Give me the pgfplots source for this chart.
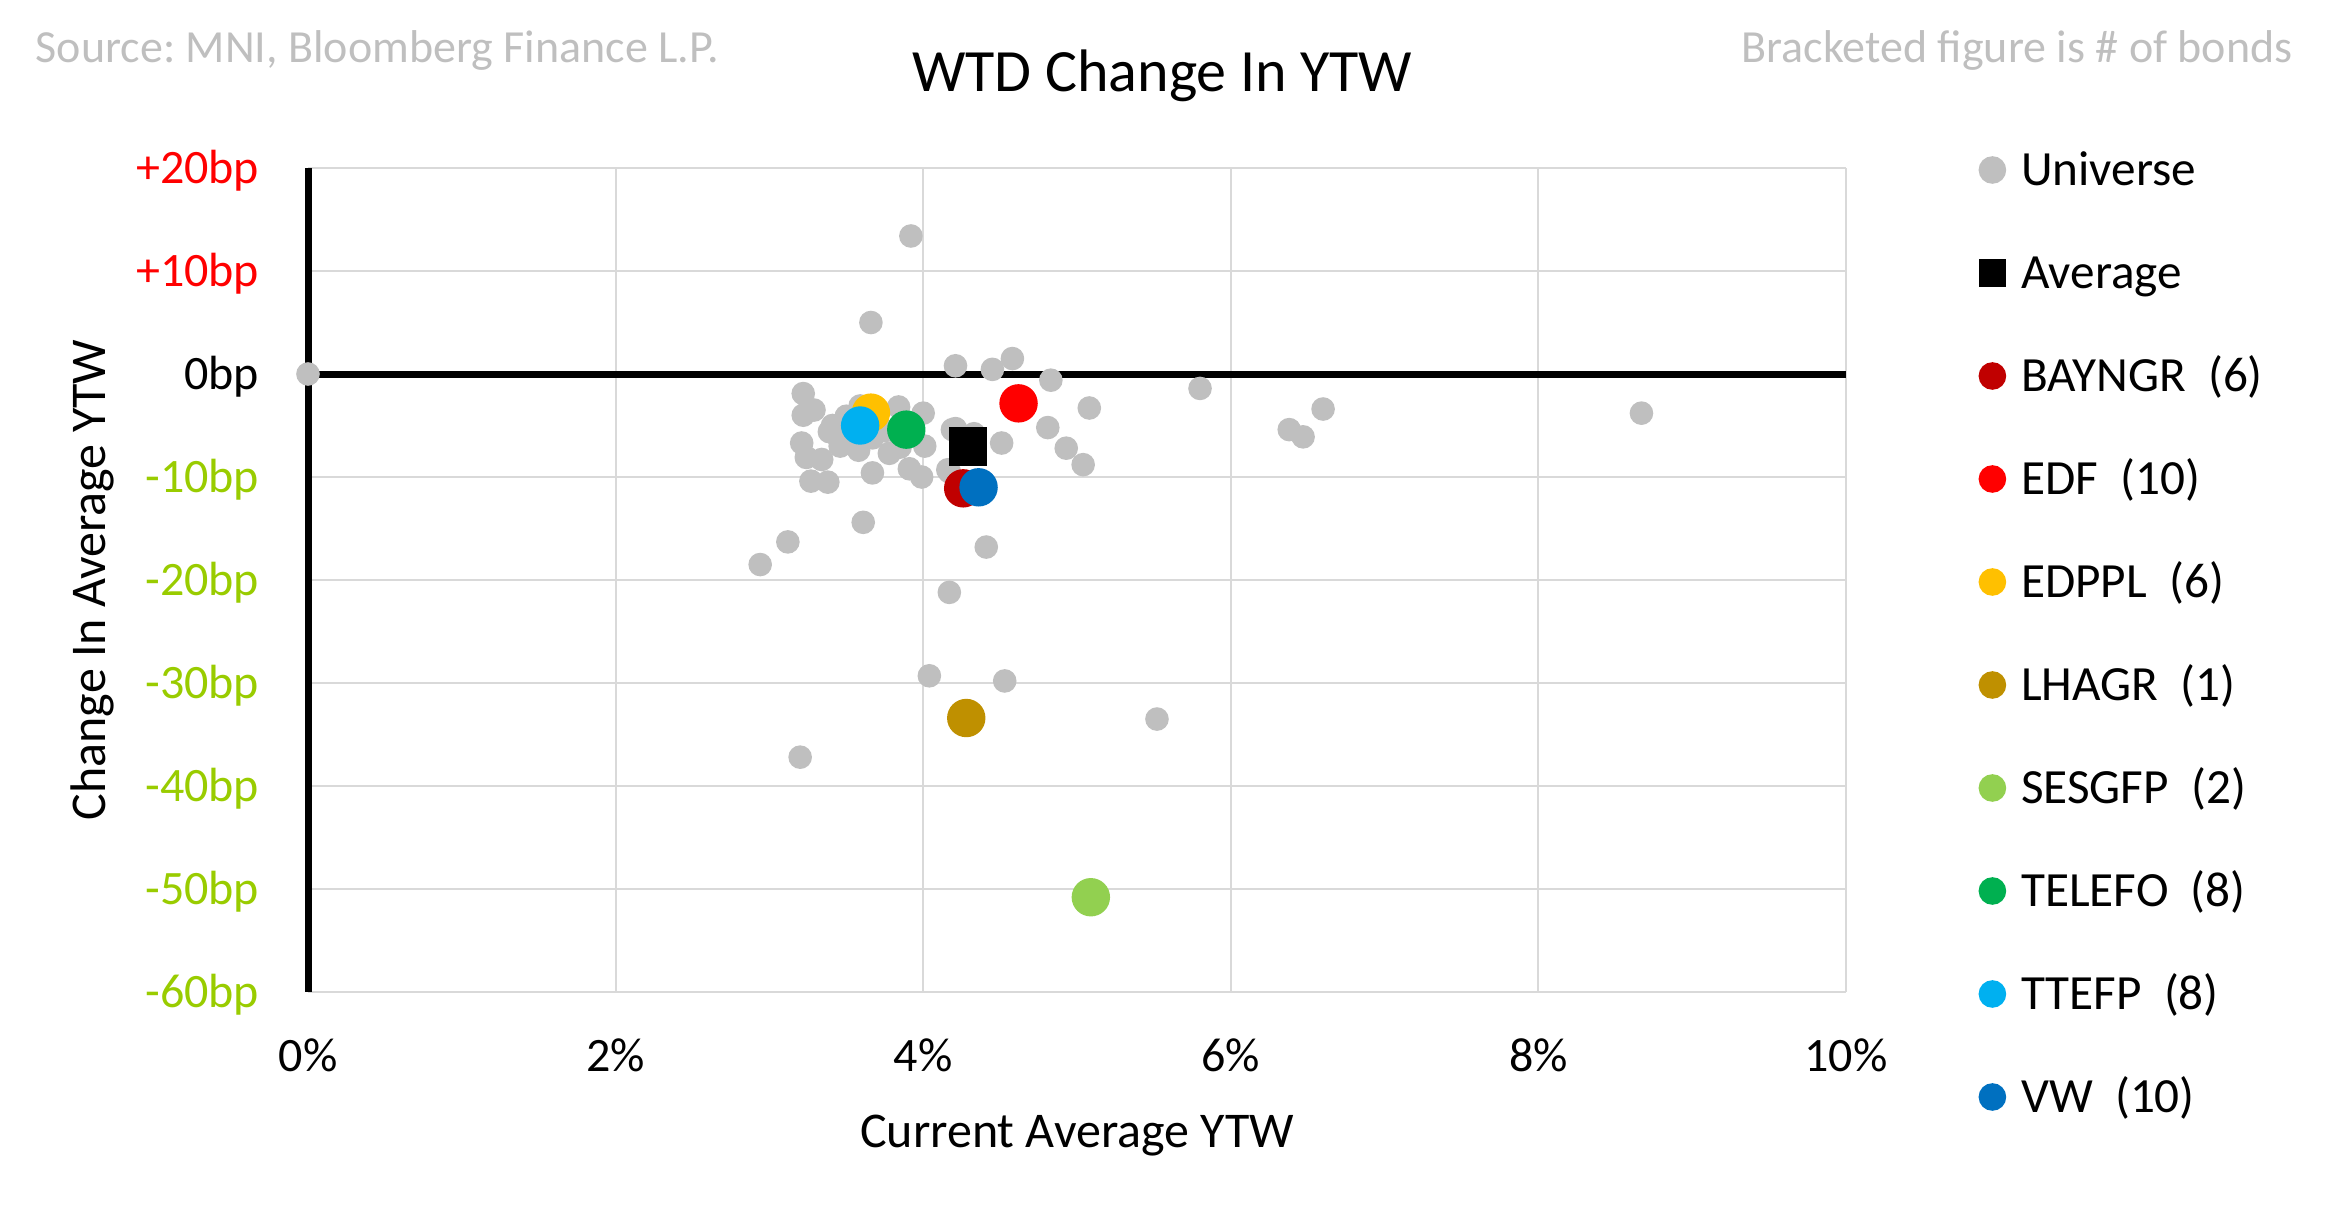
\documentclass[border=0pt]{standalone}
\usepackage{pgfplots}
\pgfplotsset{compat=1.18}
\usepackage{fontspec}
\setmainfont{Carlito}
\definecolor{unigray}{HTML}{BFBFBF}
\definecolor{gridgray}{HTML}{D9D9D9}
\definecolor{srcgray}{HTML}{BFBFBF}
\definecolor{cBAY}{HTML}{C00000}
\definecolor{cEDF}{HTML}{FF0000}
\definecolor{cEDP}{HTML}{FFC000}
\definecolor{cLHA}{HTML}{BF9000}
\definecolor{cSES}{HTML}{92D050}
\definecolor{cTEL}{HTML}{00B050}
\definecolor{cTTE}{HTML}{00B0F0}
\definecolor{cVW}{HTML}{0070C0}
\definecolor{tickgreen}{HTML}{99CC00}
\begin{document}
\frenchspacing
\begin{tikzpicture}
\useasboundingbox (0,0) rectangle (581.25pt,304.75pt);
\node[anchor=base west, text=srcgray, font=\fontsize{11.5}{14}\selectfont, inner sep=0pt] at (8.75pt,289pt) {Source: MNI, Bloomberg Finance L.P.};
\node[anchor=base east, text=srcgray, font=\fontsize{11.5}{14}\selectfont, inner sep=0pt] at (573.3pt,289pt) {Bracketed figure is \# of bonds};
\node[anchor=base, font=\fontsize{15}{18}\selectfont, inner sep=0pt] at (290.6pt,281.75pt) {WTD Change In YTW};
\begin{axis}[
  at={(77pt,56.75pt)}, anchor=south west,
  scale only axis, width=384.5pt, height=206pt,
  xmin=0, xmax=10, ymin=-60, ymax=20,
  xtick={0,2,4,6,8,10},
  xticklabels={0\%,2\%,4\%,6\%,8\%,10\%},
  ytick={-60,-50,-40,-30,-20,-10,0,10,20},
  yticklabels={\textcolor{tickgreen}{-60bp},\textcolor{tickgreen}{-50bp},\textcolor{tickgreen}{-40bp},\textcolor{tickgreen}{-30bp},\textcolor{tickgreen}{-20bp},\textcolor{tickgreen}{-10bp},0bp,\textcolor{red}{+10bp},\textcolor{red}{+20bp}},
  grid=major,
  major grid style={color=gridgray, line width=0.5pt},
  axis line style={draw=none},
  major tick length=0pt,
  tick label style={font=\fontsize{12}{14}\selectfont},
  xticklabel style={anchor=base, yshift=-20pt},
  yticklabel style={anchor=base east, inner sep=0pt, xshift=-12pt, yshift=-3.8pt},
  xlabel={Current Average YTW},
  ylabel={Change In Average YTW},
  every axis x label/.style={at={(axis description cs:0.5,-0.1893)}, anchor=base, font=\fontsize{12.5}{15}\selectfont},
  every axis y label/.style={at={(axis description cs:-0.14,0.5)}, rotate=90, anchor=center, font=\fontsize{12.5}{15}\selectfont},
  clip=false,
  legend cell align=left,
  legend image code/.code={\fill[#1] (0pt,4pt) circle (3.25pt);},
  legend style={at={(axis description cs:1.0857,1.018)}, anchor=north west, draw=none, fill=none, inner sep=0pt, row sep=15.75pt, column sep=3.75pt, font=\fontsize{12.3}{15}\selectfont, nodes={inner sep=0pt, text height=8pt, text depth=2pt, anchor=base west}},
]
\addplot[black, line width=1.75pt, forget plot] coordinates {(0,-60) (0,20)};
\addplot[black, line width=1.75pt, forget plot] coordinates {(0,0) (10,0)};
\addplot[only marks, color=unigray, mark=*, mark size=2.75pt, mark options={draw=none, fill=unigray}] coordinates {
(0,0) (3.92,13.4) (3.66,5.0) (4.21,0.8) (4.45,0.45) (4.58,1.5) (4.83,-0.6)
(5.08,-3.3) (4.81,-5.2) (4.93,-7.2) (5.04,-8.8) (4.51,-6.7) (4.21,-5.3)
(4.33,-5.8) (4.17,-9.5) (4.41,-16.8) (4.0,-3.8) (4.01,-7.0) (3.99,-10.0)
(3.91,-9.2) (3.84,-3.2) (3.78,-7.7) (3.85,-7.1) (3.67,-9.6) (3.61,-14.4)
(3.12,-16.3) (2.94,-18.5) (3.22,-1.9) (3.29,-3.5) (3.22,-4.0) (3.21,-6.7)
(3.24,-8.1) (3.34,-8.3) (3.27,-10.4) (3.38,-10.5) (3.41,-5.0) (3.39,-5.6)
(3.46,-7.0) (3.58,-7.4) (3.50,-4.1) (3.59,-3.1) (3.67,-6.2) (3.75,-5.5)
(3.66,-6.0) (4.19,-5.4) (4.16,-9.3) (4.17,-21.2) (4.04,-29.3) (4.53,-29.8)
(5.52,-33.5) (3.20,-37.2) (5.80,-1.4) (6.60,-3.4) (6.38,-5.4) (6.47,-6.1)
(8.67,-3.8) (3.53,-6.5) (3.45,-6.2)
};
\addlegendentry{Universe}
\addplot[only marks, color=black, mark=square*, mark size=4.6pt, mark options={draw=none, fill=black},
  legend image code/.code={\fill[black] (-3.25pt,0.75pt) rectangle (3.25pt,7.25pt);}] coordinates {(4.29,-7.05)};
\addlegendentry{Average}
\addplot[only marks, color=cBAY, mark=*, mark size=4.6pt, mark options={draw=none, fill=cBAY}] coordinates {(4.26,-11.1)};
\addlegendentry{BAYNGR\ \ (6)}
\addplot[only marks, color=cEDF, mark=*, mark size=4.6pt, mark options={draw=none, fill=cEDF}] coordinates {(4.62,-2.85)};
\addlegendentry{EDF\ \ (10)}
\addplot[only marks, color=cEDP, mark=*, mark size=4.6pt, mark options={draw=none, fill=cEDP}] coordinates {(3.66,-3.75)};
\addlegendentry{EDPPL\ \ (6)}
\addplot[only marks, color=cLHA, mark=*, mark size=4.6pt, mark options={draw=none, fill=cLHA}] coordinates {(4.28,-33.4)};
\addlegendentry{LHAGR\ \ (1)}
\addplot[only marks, color=cSES, mark=*, mark size=4.6pt, mark options={draw=none, fill=cSES}] coordinates {(5.09,-50.8)};
\addlegendentry{SESGFP\ \ (2)}
\addplot[only marks, color=cTEL, mark=*, mark size=4.6pt, mark options={draw=none, fill=cTEL}] coordinates {(3.89,-5.4)};
\addlegendentry{TELEFO\ \ (8)}
\addplot[only marks, color=cTTE, mark=*, mark size=4.6pt, mark options={draw=none, fill=cTTE}] coordinates {(3.59,-5.0)};
\addlegendentry{TTEFP\ \ (8)}
\addplot[only marks, color=cVW, mark=*, mark size=4.6pt, mark options={draw=none, fill=cVW}] coordinates {(4.36,-11.0)};
\addlegendentry{VW\ \ (10)}
\end{axis}
\end{tikzpicture}
\end{document}
